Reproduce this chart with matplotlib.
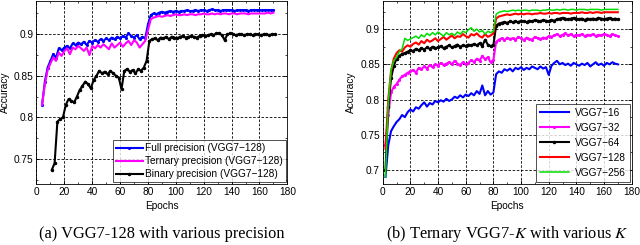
import numpy as np
import matplotlib
matplotlib.use('Agg')
import matplotlib.pyplot as plt
from matplotlib.ticker import MultipleLocator

plt.rcParams['font.family'] = 'Liberation Sans'
plt.rcParams['font.size'] = 7.3
plt.rcParams['mathtext.fontset'] = 'stix'

# (a) VGG7-128 with various precision
ep_a = np.arange(4, 171, 2)
full_prec = [.815, .843, .860, .868, .876, .872, .883, .881, .884, .886,
             .883, .889, .887, .890, .888, .891, .887, .892, .890, .893,
             .891, .894, .892, .895, .893, .896, .894, .897, .895, .898,
             .896, .901, .898, .896, .899, .894, .897, .895, .912, .923,
             .925, .924, .926, .927, .926, .927, .928, .927, .928, .927,
             .928, .928, .929, .928, .928, .929, .928, .929, .929, .928,
             .929, .930, .929, .929, .928, .929, .929, .929, .929, .928,
             .929, .929, .929, .929, .928, .929, .929, .929, .929, .929,
             .929, .929, .929, .929]
tern_prec = [.815, .840, .857, .865, .872, .868, .878, .874, .880, .883,
             .876, .884, .882, .886, .883, .880, .884, .875, .886, .883,
             .887, .884, .888, .885, .882, .889, .884, .887, .890, .885,
             .889, .892, .887, .893, .890, .884, .888, .892, .905, .918,
             .920, .921, .922, .921, .922, .923, .922, .923, .924, .923,
             .923, .924, .923, .924, .924, .923, .924, .924, .925, .924,
             .924, .925, .924, .925, .924, .925, .925, .924, .925, .925,
             .924, .925, .925, .925, .924, .925, .925, .925, .925, .925,
             .925, .926, .925, .926]
ep_bin = np.arange(11, 172, 2)
bin_prec = [.737, .745, .795, .798, .800, .815, .822, .820, .818, .825,
            .833, .838, .843, .840, .835, .845, .850, .856, .853, .855,
            .852, .856, .853, .850, .848, .834, .856, .858, .855, .857,
            .853, .858, .856, .860, .868, .892, .894, .895, .893, .896,
            .895, .897, .894, .897, .896, .895, .897, .898, .896, .897,
            .898, .897, .896, .898, .899, .898, .899, .900, .899, .901,
            .901, .899, .893, .900, .901, .900, .899, .900, .900, .899,
            .900, .900, .899, .900, .900, .899, .900, .900, .899, .900,
            .900]

# (b) Ternary VGG7-K with various K
ep_b = np.arange(2, 171, 2)
vgg16 = [.690, .735, .755, .762, .768, .772, .778, .775, .782, .786,
         .783, .789, .787, .792, .796, .790, .795, .793, .798, .796,
         .799, .797, .801, .798, .800, .804, .802, .806, .803, .807,
         .805, .809, .806, .812, .808, .820, .806, .812, .807, .810,
         .836, .840, .838, .843, .841, .844, .840, .845, .843, .846,
         .842, .845, .843, .847, .845, .843, .847, .844, .846, .835,
         .848, .852, .855, .850, .852, .849, .851, .848, .852, .850,
         .848, .851, .849, .852, .847, .850, .853, .849, .851, .848,
         .852, .850, .853, .851, .850]
vgg32 = [.735, .778, .810, .818, .822, .828, .833, .835, .838, .840,
         .842, .838, .845, .843, .847, .844, .849, .846, .850, .848,
         .852, .849, .851, .853, .850, .855, .851, .849, .853, .850,
         .852, .856, .853, .858, .855, .862, .857, .860, .853, .856,
         .882, .885, .887, .884, .888, .886, .887, .885, .889, .887,
         .884, .888, .886, .885, .889, .887, .886, .888, .887, .890,
         .889, .891, .893, .890, .892, .894, .891, .893, .890, .892,
         .891, .893, .890, .892, .891, .893, .890, .892, .891, .893,
         .892, .890, .893, .891, .890]
vgg64 = [.700, .790, .830, .848, .858, .862, .865, .866, .868, .870,
         .869, .872, .870, .873, .871, .874, .872, .875, .873, .874,
         .876, .873, .875, .877, .874, .876, .878, .875, .877, .876,
         .878, .877, .879, .877, .880, .876, .885, .878, .876, .877,
         .905, .908, .909, .910, .909, .911, .910, .911, .910, .912,
         .911, .910, .912, .911, .913, .912, .911, .913, .912, .911,
         .913, .912, .914, .915, .916, .915, .914, .915, .916, .915,
         .914, .915, .913, .915, .914, .915, .914, .916, .915, .914,
         .915, .916, .914, .915, .914]
vgg128 = [.730, .800, .840, .858, .866, .870, .868, .874, .877, .875,
          .879, .881, .878, .883, .880, .885, .882, .884, .887, .883,
          .886, .889, .885, .888, .891, .887, .890, .889, .893, .890,
          .888, .893, .891, .894, .890, .888, .893, .889, .891, .894,
          .915, .918, .919, .920, .921, .920, .921, .922, .921, .922,
          .921, .922, .922, .921, .922, .922, .923, .922, .922, .923,
          .922, .923, .923, .922, .923, .923, .923, .922, .923, .923,
          .923, .924, .923, .923, .924, .923, .924, .924, .923, .924,
          .924, .924, .924, .924, .924]
vgg256 = [.690, .795, .842, .855, .860, .868, .872, .887, .884, .886,
          .888, .890, .887, .892, .889, .894, .891, .895, .892, .896,
          .893, .890, .895, .892, .894, .891, .896, .893, .897, .895,
          .899, .902, .897, .900, .896, .898, .893, .897, .895, .897,
          .921, .924, .925, .926, .925, .926, .927, .926, .927, .926,
          .927, .927, .926, .927, .927, .927, .926, .927, .927, .928,
          .927, .927, .928, .927, .928, .928, .927, .928, .928, .927,
          .928, .928, .928, .927, .928, .928, .928, .928, .927, .928,
          .928, .928, .928, .928, .928]

fig = plt.figure(figsize=(6.4, 2.45), dpi=100)
ax1 = fig.add_axes([0.057, 0.249, 0.392, 0.747])
ax2 = fig.add_axes([0.598, 0.249, 0.389, 0.747])


def style(ax, ylim, yticks):
    ax.set_xlim(0, 180)
    ax.set_ylim(*ylim)
    ax.set_xticks(range(0, 181, 20))
    ax.set_yticks(yticks)
    ax.set_yticklabels([('%g' % v) for v in yticks])
    ax.xaxis.set_minor_locator(MultipleLocator(10))
    ax.yaxis.set_minor_locator(MultipleLocator(0.025))
    ax.tick_params(which='both', direction='in', top=True, right=True, pad=2)
    ax.tick_params(which='major', length=3, width=0.6)
    ax.tick_params(which='minor', length=1.5, width=0.5)
    ax.grid(True, which='major', linestyle='--', color='black', linewidth=0.6, dashes=(3, 2))
    ax.set_axisbelow(True)
    for s in ax.spines.values():
        s.set_linewidth(0.6)
    ax.set_xlabel('Epochs', labelpad=3)
    ax.set_ylabel('Accuracy', labelpad=3)


ax1.plot(ep_a, full_prec, color='blue', lw=1.5, marker='.', ms=2.5, label='Full precision (VGG7\u2212128)')
ax1.plot(ep_a, tern_prec, color='magenta', lw=1.5, label='Ternary precision (VGG7\u2212128)')
ax1.plot(ep_bin, bin_prec, color='black', lw=1.5, marker='.', ms=3, label='Binary precision (VGG7\u2212128)')
style(ax1, (0.72, 0.94), [0.75, 0.8, 0.85, 0.9])
leg1 = ax1.legend(loc='lower right', fontsize=7.3, frameon=True, fancybox=False, edgecolor='black',
                  borderpad=0.3, labelspacing=0.3, handlelength=2.7, handletextpad=0.2, borderaxespad=0.15)
leg1.get_frame().set_linewidth(0.6)

ax2.plot(ep_b, vgg16, color='blue', lw=1.5, label='VGG7\u221216')
ax2.plot(ep_b, vgg32, color='magenta', lw=1.5, marker='.', ms=2.5, label='VGG7\u221232')
ax2.plot(ep_b, vgg64, color='black', lw=1.5, marker='.', ms=3, label='VGG7\u221264')
ax2.plot(ep_b, vgg128, color='red', lw=1.5, label='VGG7\u2212128')
ax2.plot(ep_b, vgg256, color='#00dd00', lw=1.1, label='VGG7\u2212256')
style(ax2, (0.68, 0.94), [0.7, 0.75, 0.8, 0.85, 0.9])
leg2 = ax2.legend(loc='lower right', fontsize=7.3, frameon=True, fancybox=False, edgecolor='black',
                  borderpad=0.4, labelspacing=0.5, handlelength=2.8, handletextpad=0.6, borderaxespad=0.2)
leg2.get_frame().set_linewidth(0.6)

fig.text(0.253, 0.045, '(a) VGG7-128 with various precision', ha='center', va='center',
         family='Liberation Serif', fontsize=11.8)
fig.text(0.793, 0.045, '(b) Ternary VGG7-$K$ with various $K$', ha='center', va='center',
         family='Liberation Serif', fontsize=11.8)

fig.savefig('out.png', dpi=100)
